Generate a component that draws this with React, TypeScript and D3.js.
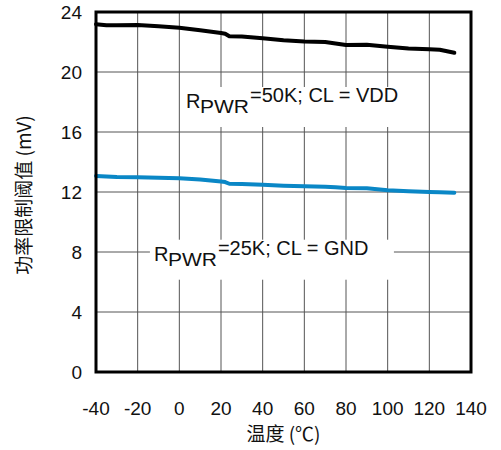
import React from "react";
import * as d3 from "d3";

const temps = [-40, -35, -30, -20, -10, 0, 10, 20, 22, 24, 30, 40, 50, 60, 70, 75, 80, 90, 100, 110, 120, 125, 132];
const vdd50k = [23.18, 23.11, 23.12, 23.13, 23.05, 22.95, 22.78, 22.6, 22.55, 22.38, 22.36, 22.25, 22.12, 22.04, 22.0, 21.9, 21.8, 21.82, 21.68, 21.57, 21.52, 21.48, 21.28];
const gnd25k = [13.07, 13.03, 13.0, 12.98, 12.95, 12.91, 12.83, 12.7, 12.66, 12.55, 12.54, 12.48, 12.42, 12.38, 12.35, 12.31, 12.26, 12.25, 12.12, 12.05, 12.0, 11.98, 11.95];
const xTicks = [-40, -20, 0, 20, 40, 60, 80, 100, 120, 140];
const yTicks = [0, 4, 8, 12, 16, 20, 24];
const xTitle = "温度 (℃)";
const yTitle = "功率限制阈值 (mV)";
const labels = [
  { t: 3.2, v: 17.6, rest: "=50K; CL = VDD" },
  { t: -12.2, v: 7.42, rest: "=25K; CL = GND" },
];

const W = 501, H = 450;
const L = 96, R = 471, T = 12, B = 372;
const FONT = "'Liberation Sans', Arial, sans-serif";
const CJK = "'Noto Sans CJK SC', 'Liberation Sans', sans-serif";

export default function App() {
  const x = d3.scaleLinear().domain([-40, 140]).range([L, R]);
  const y = d3.scaleLinear().domain([0, 24]).range([B, T]);
  const line = (vals: number[]) =>
    d3.line<number>().x((_, i) => x(temps[i])).y((d) => y(d))(vals) || "";

  return (
    <svg width={W} height={H} style={{ position: "absolute", left: 0, top: 0, background: "#fff" }}>
      <rect x={0} y={0} width={W} height={H} fill="#fff" />
      {xTicks.slice(1, -1).map((t) => (
        <line key={"vx" + t} x1={x(t)} x2={x(t)} y1={T} y2={B} stroke="#555" strokeWidth={1} />
      ))}
      {yTicks.slice(1, -1).map((v) => (
        <line key={"hy" + v} x1={L} x2={R} y1={y(v)} y2={y(v)} stroke="#555" strokeWidth={1} />
      ))}
      {labels.map((lb, i) => {
        const ax = x(lb.t);
        const ay = y(lb.v);
        return (
          <g key={"lb" + i}>
            <rect x={ax - 4} y={ay - 21} width={i === 0 ? 242 : 244} height={40} fill="#fff" />
            <text x={ax} y={ay} fontFamily={FONT} fontSize={20} fill="#111">R</text>
            <text x={ax + 14} y={ay + 5} fontFamily={FONT} fontSize={18} fill="#111" textLength={49} lengthAdjust="spacingAndGlyphs">PWR</text>
            <text x={ax + 64} y={ay - 6} fontFamily={FONT} fontSize={20} fill="#111">{lb.rest}</text>
          </g>
        );
      })}
      <path d={line(vdd50k)} fill="none" stroke="#000" strokeWidth={4} strokeLinejoin="round" strokeLinecap="round" />
      <path d={line(gnd25k)} fill="none" stroke="#0a87c6" strokeWidth={4} strokeLinejoin="round" strokeLinecap="round" />
      <rect x={L} y={T} width={R - L} height={B - T} fill="none" stroke="#000" strokeWidth={3} />
      {yTicks.map((v) => (
        <text key={"yt" + v} x={82} y={y(v)} dy="0.36em" textAnchor="end" fontFamily={FONT} fontSize={19} fill="#111">{v}</text>
      ))}
      {xTicks.map((t) => (
        <text key={"xt" + t} x={x(t)} y={415} textAnchor="middle" fontFamily={FONT} fontSize={19} fill="#111">{t}</text>
      ))}
      <text x={(L + R) / 2} y={441} textAnchor="middle" fontFamily={CJK} fontSize={19} fill="#111">{xTitle}</text>
      <text transform={`translate(31, 195) rotate(-90)`} textAnchor="middle" fontFamily={CJK} fontSize={19} fill="#111">{yTitle}</text>
    </svg>
  );
}
